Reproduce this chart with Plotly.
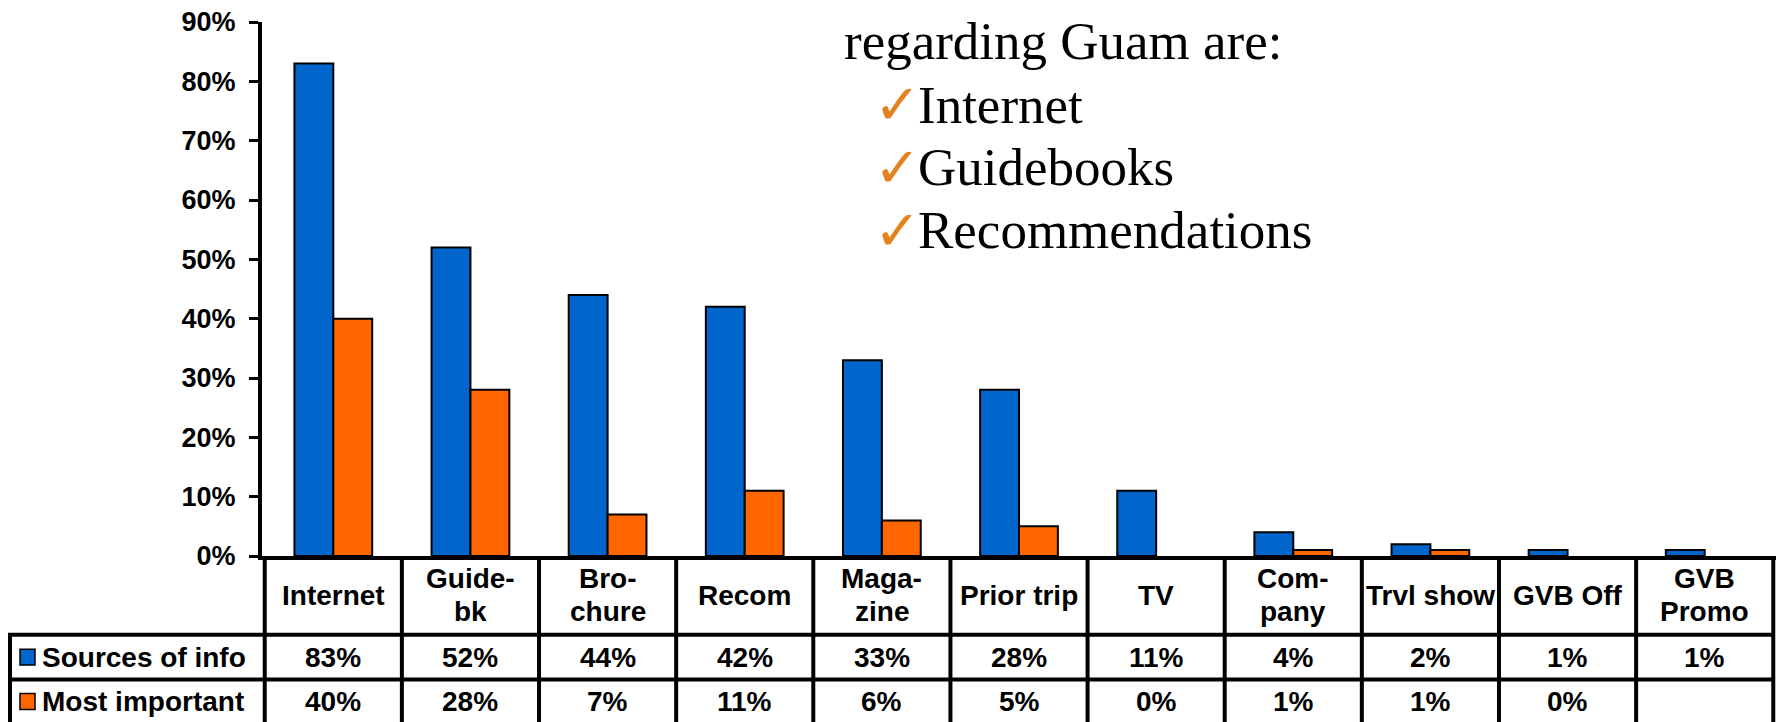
import plotly.graph_objects as go

# ---- data -------------------------------------------------------------
categories = ["Internet", "Guide-bk", "Brochure", "Recom", "Magazine", "Prior trip",
              "TV", "Company", "Trvl show", "GVB Off", "GVB Promo"]
header_labels = ["Internet", "Guide-<br>bk", "Bro-<br>chure", "Recom", "Maga-<br>zine",
                 "Prior trip", "TV", "Com-<br>pany", "Trvl show", "GVB Off", "GVB<br>Promo"]
sources_of_info = [83, 52, 44, 42, 33, 28, 11, 4, 2, 1, 1]
most_important = [40, 28, 7, 11, 6, 5, 0, 1, 1, 0, None]
series_names = ["Sources of info", "Most important"]
series_colors = ["#0066CC", "#FF6600"]
y_ticks = [0, 10, 20, 30, 40, 50, 60, 70, 80, 90]
callout_heading = "regarding Guam are:"
callout_items = ["Internet", "Guidebooks", "Recommendations"]

# ---- geometry ---------------------------------------------------------
W, H = 1783, 722
ML, MR, MT, MB = 262, 7, 20, 166
PW, PH = W - ML - MR, H - MT - MB
X_RANGE = [-0.52, len(categories) - 1 + 0.52]


def px(x):
    """pixel column -> paper x"""
    return (x - ML) / PW


def py(y):
    """pixel row -> paper y"""
    return (H - MB - y) / PH


TABLE_FONT = "Liberation Sans, Arial, sans-serif"
SERIF = "Liberation Serif, Times New Roman, serif"
LINE = dict(color="black", width=4)
TFS = 28

fig = go.Figure()
for name, vals, col in zip(series_names, [sources_of_info, most_important], series_colors):
    # zero-height bars get no outline so they stay invisible
    outline_w = [0 if (v is None or v == 0) else 2 for v in vals]
    fig.add_trace(go.Bar(
        x=categories, y=vals, name=name,
        marker=dict(color=col, line=dict(color="black", width=outline_w)),
        showlegend=False, hoverinfo="skip",
    ))

shapes = []
annotations = []

# table rows (pixel rows of the horizontal rules)
HEAD_TOP, ROW1_TOP, ROW2_TOP, TABLE_BOTTOM = 556, 635, 680, 730
LEGEND_LEFT = 10

# vertical rules at category boundaries
for i in range(len(categories) + 1):
    shapes.append(dict(type="line", xref="x", yref="paper",
                       x0=i - 0.5, x1=i - 0.5, y0=py(HEAD_TOP), y1=py(TABLE_BOTTOM),
                       line=LINE))
# horizontal rules (category part + legend column part)
for yy in [ROW1_TOP, ROW2_TOP]:
    shapes.append(dict(type="line", xref="x", yref="paper",
                       x0=-0.5, x1=len(categories) - 0.5, y0=py(yy), y1=py(yy), line=LINE))
    shapes.append(dict(type="line", xref="paper", yref="paper",
                       x0=px(LEGEND_LEFT - 2), x1=px(ML + 1), y0=py(yy), y1=py(yy), line=LINE))
# legend column left border
shapes.append(dict(type="line", xref="paper", yref="paper",
                   x0=px(LEGEND_LEFT), x1=px(LEGEND_LEFT), y0=py(ROW1_TOP), y1=py(TABLE_BOTTOM),
                   line=LINE))

# header labels (each line placed separately for tight leading)
head_mid = (HEAD_TOP + ROW1_TOP) / 2
for cat, lab in zip(categories, header_labels):
    parts = lab.split("<br>")
    n = len(parts)
    for k, part in enumerate(parts):
        yc = head_mid + (k - (n - 1) / 2) * 33
        annotations.append(dict(xref="x", yref="paper", x=cat, y=py(yc),
                                text=f"<b>{part}</b>", showarrow=False,
                                xanchor="center", yanchor="middle",
                                font=dict(family=TABLE_FONT, size=TFS, color="black")))

# value rows + legend cells
row_mids = [(ROW1_TOP + ROW2_TOP) / 2, (ROW2_TOP + 724) / 2]
for name, vals, col, ym in zip(series_names, [sources_of_info, most_important],
                               series_colors, row_mids):
    for cat, v in zip(categories, vals):
        if v is None:
            continue
        annotations.append(dict(xref="x", yref="paper", x=cat, y=py(ym),
                                text=f"<b>{v}%</b>", showarrow=False,
                                xanchor="center", yanchor="middle",
                                font=dict(family=TABLE_FONT, size=TFS, color="black")))
    shapes.append(dict(type="rect", xref="paper", yref="paper",
                       x0=px(20), x1=px(35), y0=py(ym - 8), y1=py(ym + 8),
                       fillcolor=col, line=dict(color="black", width=1.5)))
    annotations.append(dict(xref="paper", yref="paper", x=px(40), y=py(ym),
                            text=f"<b>{name}</b>", showarrow=False,
                            xanchor="left", yanchor="middle",
                            font=dict(family=TABLE_FONT, size=TFS, color="black")))

# callout text
annotations.append(dict(xref="paper", yref="paper", x=px(842), y=py(59 - 20),
                        text=callout_heading, showarrow=False,
                        xanchor="left", yanchor="middle",
                        font=dict(family=SERIF, size=53, color="black")))
for k, item in enumerate(callout_items):
    base = 123 + k * 63
    annotations.append(dict(xref="paper", yref="paper", x=px(872), y=py(base - 20),
                            text="✓", showarrow=False, xanchor="left", yanchor="middle",
                            font=dict(family="DejaVu Sans", size=56, color="#E3821E")))
    annotations.append(dict(xref="paper", yref="paper", x=px(916), y=py(base - 20),
                            text=item, showarrow=False, xanchor="left", yanchor="middle",
                            font=dict(family=SERIF, size=53, color="black")))

fig.update_layout(
    width=W, height=H,
    margin=dict(l=ML, r=MR, t=MT, b=MB),
    paper_bgcolor="white", plot_bgcolor="white",
    barmode="group", bargap=0.433, bargroupgap=0,
    shapes=shapes, annotations=annotations,
    xaxis=dict(range=X_RANGE, showline=True, linewidth=4, linecolor="black",
               showticklabels=False, ticks="", showgrid=False, zeroline=False,
               fixedrange=True),
    yaxis=dict(range=[0, 90], tickmode="array", tickvals=y_ticks,
               ticktext=[f"{v}%" for v in y_ticks],
               showline=True, linewidth=4, linecolor="black",
               ticks="outside", ticklen=9, tickwidth=3, tickcolor="black",
               ticklabelstandoff=8,
               tickfont=dict(family=TABLE_FONT, size=27, color="black", weight="bold"),
               showgrid=False, zeroline=False, fixedrange=True),
)

fig.write_html("out.html", config={"displayModeBar": False})
